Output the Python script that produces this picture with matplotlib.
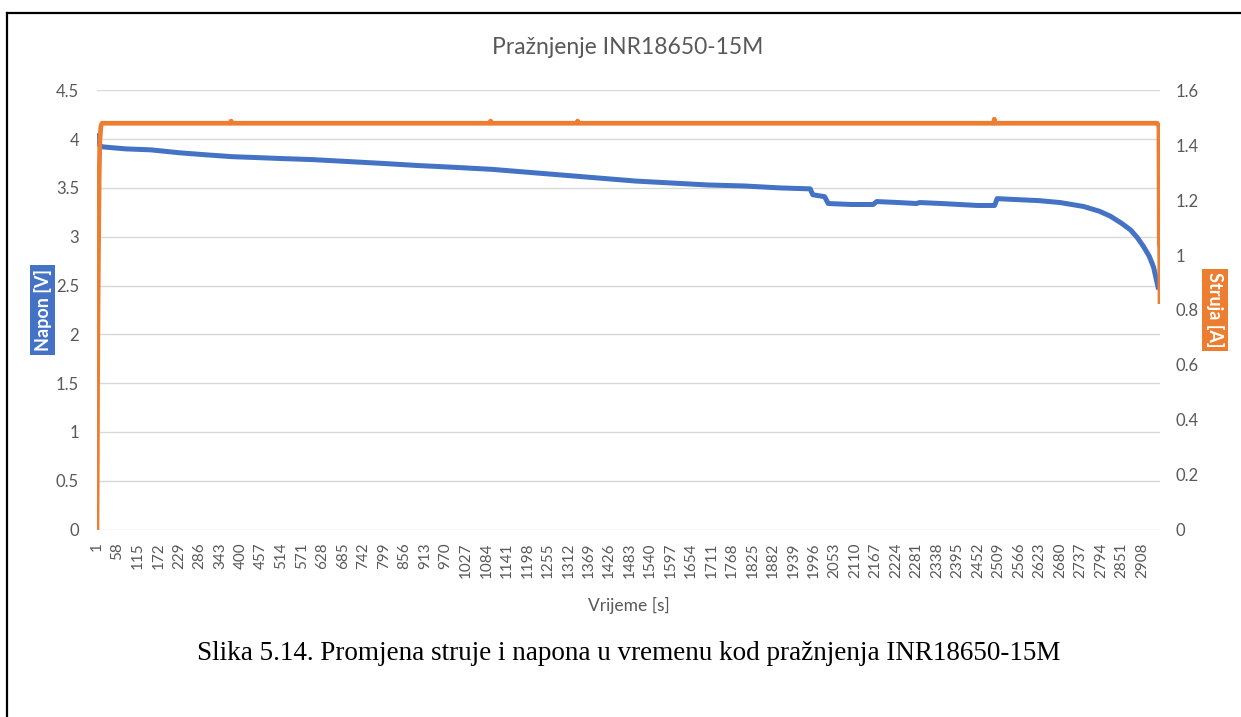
import matplotlib.pyplot as plt
from matplotlib.lines import Line2D

# napon (V) - blue series, sample index -> value
vrijeme_napon = [1, 4, 9, 18, 80, 150, 230, 300, 377, 450, 520, 600, 700, 800, 890,
                 1000, 1100, 1200, 1300, 1400, 1500, 1600, 1700, 1800, 1900, 1985,
                 1992, 2025, 2035, 2100, 2160, 2170, 2230, 2280, 2290, 2350, 2400,
                 2450, 2498, 2505, 2560, 2620, 2680, 2745, 2790, 2820, 2850, 2876,
                 2895, 2912, 2928, 2940, 2954]
napon = [4.06, 3.98, 3.93, 3.92, 3.90, 3.89, 3.86, 3.84, 3.82, 3.81, 3.80, 3.79, 3.77,
         3.75, 3.73, 3.71, 3.69, 3.66, 3.63, 3.60, 3.57, 3.55, 3.53, 3.52, 3.50, 3.49,
         3.43, 3.41, 3.34, 3.33, 3.33, 3.36, 3.35, 3.34, 3.35, 3.34, 3.33, 3.32, 3.32,
         3.39, 3.38, 3.37, 3.35, 3.31, 3.26, 3.21, 3.14, 3.07, 2.99, 2.90, 2.80, 2.69,
         2.46]

# struja (A) - orange series
vrijeme_struja = [1, 2, 3, 5, 7, 9, 12, 15, 372, 374, 376, 1094, 1096, 1098, 1336, 1338,
                  1340, 2495, 2497, 2499, 2950, 2955, 2956, 2957, 2958]
struja = [0.0, 0.30, 0.65, 1.00, 1.28, 1.42, 1.47, 1.48, 1.48, 1.488, 1.48, 1.48, 1.488,
          1.48, 1.48, 1.488, 1.48, 1.48, 1.495, 1.48, 1.48, 1.47, 1.04, 1.03, 0.83]

n_uzoraka = 2958
x_oznake = list(range(1, 2909, 57))
napon_ticks = [0, 0.5, 1, 1.5, 2, 2.5, 3, 3.5, 4, 4.5]
struja_ticks = [0, 0.2, 0.4, 0.6, 0.8, 1.0, 1.2, 1.4, 1.6]

plava = '#4472C4'
narancasta = '#ED7D31'
siva = '#595959'

plt.rcParams['font.family'] = ['Lato', 'DejaVu Sans']

W, H = 1241, 717
fig = plt.figure(figsize=(W / 100, H / 100), dpi=100)

# frame around the figure (left and top edges visible)
fig.add_artist(Line2D([6.5 / W, 6.5 / W], [0, 1 - 13 / H], color='black', lw=1.6,
                      transform=fig.transFigure))
fig.add_artist(Line2D([6.5 / W, 1], [1 - 13 / H, 1 - 13 / H], color='black', lw=1.6,
                      transform=fig.transFigure))

left, right = 97 / W, 1160 / W
bottom, top = 1 - 529.5 / H, 1 - 90.3 / H
ax = fig.add_axes([left, bottom, right - left, top - bottom])
ax2 = ax.twinx()

ax.plot(vrijeme_napon, napon, color=plava, lw=3.6, solid_capstyle='butt')
ax2.plot(vrijeme_struja, struja, color=narancasta, lw=3.4, solid_joinstyle='round')

ax.set_xlim(1, n_uzoraka)
ax.set_ylim(0, 4.5)
ax2.set_ylim(0, 1.6)

ax.set_yticks(napon_ticks)
ax.set_yticklabels([f'{v:g}' for v in napon_ticks])
ax2.set_yticks(struja_ticks)
ax2.set_yticklabels([f'{v:g}' for v in struja_ticks])
ax.set_xticks(x_oznake)
ax.set_xticklabels([str(v) for v in x_oznake], rotation=90, va='top', ha='center')

ax.grid(axis='y', color='#D9D9D9', lw=1.0)
ax.set_axisbelow(True)
for a in (ax, ax2):
    for s in a.spines.values():
        s.set_visible(False)
ax.tick_params(axis='y', length=0, pad=13, labelsize=12, labelcolor=siva)
ax2.tick_params(axis='y', length=0, pad=11, labelsize=12, labelcolor=siva)
ax.tick_params(axis='x', length=0, pad=9, labelsize=11, labelcolor=siva)

ax.set_xlabel('Vrijeme [s]', fontsize=12.5, color=siva, labelpad=14)
ax.set_zorder(ax2.get_zorder() - 1)
ax.patch.set_visible(True)
ax2.patch.set_visible(False)

fig.text(628 / W, 1 - 47 / H, 'Pražnjenje INR18650-15M', ha='center', va='center',
         fontsize=16.5, color=siva)

fig.text(42.5 / W, 1 - 310 / H, 'Napon [V]', rotation=90, ha='center', va='center',
         fontsize=13, color='white', fontweight='bold',
         bbox=dict(boxstyle='square,pad=0.2', fc=plava, ec='none'))
fig.text(1215 / W, 1 - 310 / H, 'Struja [A]', rotation=-90, ha='center', va='center',
         fontsize=13, color='white', fontweight='bold',
         bbox=dict(boxstyle='square,pad=0.2', fc=narancasta, ec='none'))

fig.text(629 / W, 1 - 654 / H,
         'Slika 5.14. Promjena struje i napona u vremenu kod pražnjenja INR18650-15M',
         ha='center', va='center', fontsize=19.5, color='black',
         family=['Liberation Serif', 'DejaVu Serif'])

fig.savefig('out.png', dpi=100)
